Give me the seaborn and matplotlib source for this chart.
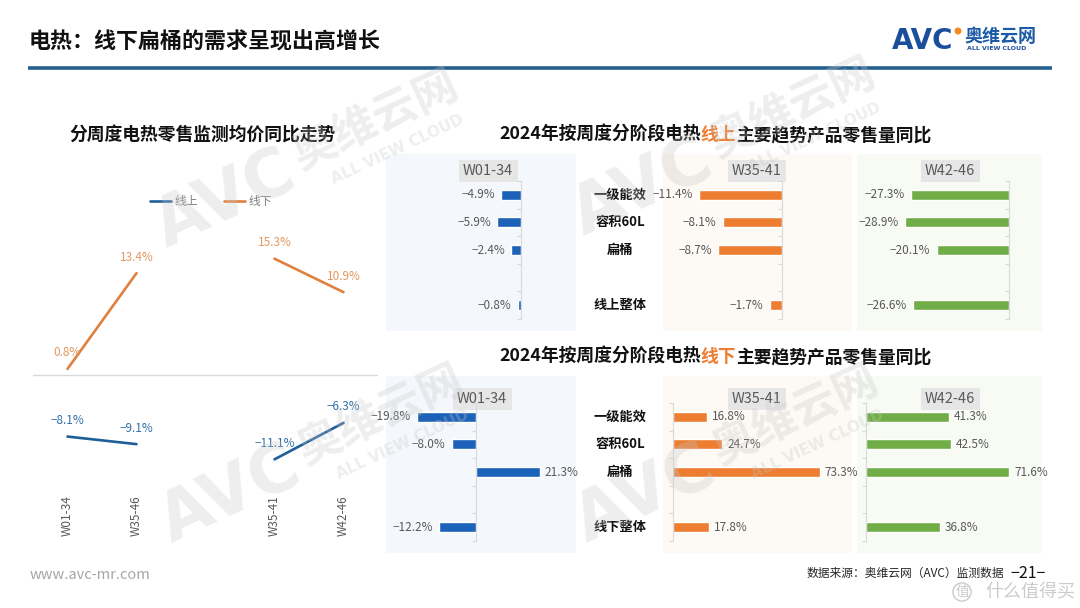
import numpy as np
import pandas as pd
import seaborn as sns
import matplotlib.pyplot as plt
from matplotlib.patches import Rectangle, Circle

sns.set_theme(style="white")
plt.rcParams['font.family'] = ['Noto Sans CJK SC', 'DejaVu Sans']
plt.rcParams['axes.unicode_minus'] = True

W, H = 1080, 608

# ---- left chart: weekly average price yoy
period_slots = ['W01-34', 'W35-46', '', 'W35-41', 'W42-46']
periods = ['W01-34', 'W35-46', 'W35-41', 'W42-46']
period_group = ['全年', '全年', '下半段', '下半段']
price_online = [-8.1, -9.1, -11.1, -6.3]
price_offline = [0.8, 13.4, 15.3, 10.9]

# ---- right panels: retail volume yoy by stage
stages = ['W01-34', 'W35-41', 'W42-46']
rows_online = ['一级能效', '容积60L', '扁桶', '', '线上整体']
rows_offline = ['一级能效', '容积60L', '扁桶', '', '线下整体']
online_w01_34 = [-4.9, -5.9, -2.4, -0.8]
online_w35_41 = [-11.4, -8.1, -8.7, -1.7]
online_w42_46 = [-27.3, -28.9, -20.1, -26.6]
offline_w01_34 = [-19.8, -8.0, 21.3, -12.2]
offline_w35_41 = [16.8, 24.7, 73.3, 17.8]
offline_w42_46 = [41.3, 42.5, 71.6, 36.8]

BLUE_LINE = '#1f5f99'
ORANGE_LINE = '#e0803f'
C_BLUE = '#1c62b9'
C_ORANGE = '#ed7d31'
C_GREEN = '#70ad47'
stage_colors = [C_BLUE, C_ORANGE, C_GREEN]
bg_colors = ['#f4f8fc', '#fdf9f4', '#f8fbf4']


def pct(v):
    return f"{v:.1f}%".replace('-', '\u2212')


def px_axes(fig, x0, y0, x1, y1, **kw):
    return fig.add_axes([x0 / W, 1 - y1 / H, (x1 - x0) / W, (y1 - y0) / H], **kw)


fig = plt.figure(figsize=(10.8, 6.08), dpi=100, facecolor='white')

# background layer in pixel coords
bg = fig.add_axes([0, 0, 1, 1], zorder=-5)
bg.set_xlim(0, W)
bg.set_ylim(H, 0)
bg.axis('off')

# overlay layer for watermarks
ov = fig.add_axes([0, 0, 1, 1], zorder=10)
ov.set_xlim(0, W)
ov.set_ylim(H, 0)
ov.axis('off')

# header
bg.text(29, 42, '电热：线下扁桶的需求呈现出高增长', fontsize=15.8, weight='bold',
        color='#111111', va='center', ha='left')
bg.plot([28, 1052], [68, 68], color='#25608f', lw=2.6, solid_capstyle='butt')
bg.text(892, 41, 'AVC', fontsize=20, weight='bold', color='#1b4f9b', va='center', ha='left',
        family='DejaVu Sans')
bg.add_patch(Circle((958, 31), 2.8, color='#f08a24'))
bg.text(964, 36, '奥维云网', fontsize=13, weight='bold', color='#1b5aa6', va='center', ha='left')
bg.text(967, 49, 'ALL VIEW CLOUD', fontsize=4.5, weight='bold', color='#1b4f9b', va='center',
        ha='left', family='DejaVu Sans')

# footer
bg.text(30, 575, 'www.avc-mr.com', fontsize=10.5, color='#a6a6a6', va='center', ha='left')
bg.text(807, 573, '数据来源：奥维云网（AVC）监测数据', fontsize=8.5, color='#262626',
        va='center', ha='left')
bg.text(1028, 573, '\u221221\u2212', fontsize=11.5, color='#111111', va='center', ha='center')
bg.text(962, 592, '值', fontsize=10, color='#cccccc', va='center', ha='center',
        bbox=dict(boxstyle='circle,pad=0.15', fc='none', ec='#cccccc', lw=1))
bg.text(985, 592, '什么值得买', fontsize=13, color='#cccccc', va='center', ha='left')

# panel backgrounds
col_x = [(386, 576), (663, 852), (857, 1042)]
for (x0, x1), c in zip(col_x, bg_colors):
    bg.add_patch(Rectangle((x0, 154), x1 - x0, 177, color=c, lw=0))
    bg.add_patch(Rectangle((x0, 376), x1 - x0, 177, color=c, lw=0))


def rich_text(ax, x, y, parts, **kw):
    t = ax.text(x, y, parts[0][0], color=parts[0][1], va='center', ha='left', **kw)
    for s, c in parts[1:]:
        t = ax.annotate(s, xy=(1, 0), xycoords=t, va='bottom', ha='left', color=c, **kw)
    return t


rich_text(bg, 499, 135, [('2024年按周度分阶段电热', '#111111'), ('线上', C_ORANGE),
                         ('主要趋势产品零售量同比', '#111111')], fontsize=12.8, weight='bold')
rich_text(bg, 499, 357, [('2024年按周度分阶段电热', '#111111'), ('线下', C_ORANGE),
                         ('主要趋势产品零售量同比', '#111111')], fontsize=12.8, weight='bold')

# ---- left line chart
bg.text(203, 136, '分周度电热零售监测均价同比走势', fontsize=12.8, weight='bold',
        color='#111111', va='center', ha='center')

records = []
for name, vals in [('线上', price_online), ('线下', price_offline)]:
    for p, g, v in zip(periods, period_group, vals):
        records.append({'series': name, 'period': p, 'group': g, 'value': v,
                        'pos': period_slots.index(p)})
df_line = pd.DataFrame(records)

zero_px, ppu = 375, 7.6
y_top, y_bot = 230, 490
axl = px_axes(fig, 33, y_top, 378, y_bot)
axl.set_facecolor('none')
sns.lineplot(data=df_line, x='pos', y='value', hue='series', hue_order=['线上', '线下'],
             units='group', estimator=None, palette=[BLUE_LINE, ORANGE_LINE],
             linewidth=1.9, ax=axl)
axl.set_xlim(-0.5, len(period_slots) - 0.5)
axl.set_ylim(-(y_bot - zero_px) / ppu, (zero_px - y_top) / ppu)
axl.axhline(0, color='#d9d9d9', lw=1, zorder=0)
for _, r in df_line.iterrows():
    col = '#e4975f' if r['series'] == '线下' else '#2f6fa8'
    axl.annotate(pct(r['value']), (r['pos'], r['value']), xytext=(0, 11.5),
                 textcoords='offset points', ha='center', va='center', fontsize=8.5, color=col)
axl.set_xticks(range(len(period_slots)))
axl.set_xticklabels(period_slots, rotation=90, fontsize=8.5, color='#595959', va='top')
axl.tick_params(axis='x', length=0, pad=4)
axl.set_yticks([])
axl.set_xlabel('')
axl.set_ylabel('')
for s in axl.spines.values():
    s.set_visible(False)
handles, labels = axl.get_legend_handles_labels()
axl.legend(handles, labels, loc='center', bbox_to_anchor=(211 / W, 1 - 202 / H),
           bbox_transform=fig.transFigure, ncol=2, frameon=False, fontsize=8.5,
           labelcolor='#7f7f7f', handlelength=1.8, handletextpad=0.3, columnspacing=2.2)

# ---- bar panels
panel_geom = {
    'top': [(521, 4.0, 395, 572), (782, 7.3, 668, 850), (1009, 3.6, 860, 1040)],
    'bottom': [(476, 3.0, 388, 572), (673, 2.0, 665, 850), (866, 2.0, 858, 1045)],
}
row_y = {'top': (181, 319), 'bottom': (403, 541)}
header_x = {'top': [488, 757, 950], 'bottom': [482, 757, 950]}
header_y = {'top': 171, 'bottom': 399}
panel_data = {
    'top': (rows_online, [online_w01_34, online_w35_41, online_w42_46]),
    'bottom': (rows_offline, [offline_w01_34, offline_w35_41, offline_w42_46]),
}

for key in ['top', 'bottom']:
    order, series = panel_data[key]
    cats = [c for c in order if c]
    y0, y1 = row_y[key]
    for i, (vals, stage) in enumerate(zip(series, stages)):
        zpx, scale, x0, x1 = panel_geom[key][i]
        ax = px_axes(fig, x0, y0, x1, y1)
        ax.set_facecolor('none')
        sns.barplot(x=vals, y=cats, order=order, color=stage_colors[i], width=0.36,
                    saturation=1, ax=ax, orient='h')
        ax.set_xlim((x0 - zpx) / scale, (x1 - zpx) / scale)
        ax.set_ylim(len(order) - 0.5, -0.5)
        for s in ['top', 'right', 'bottom']:
            ax.spines[s].set_visible(False)
        ax.spines['left'].set_position(('data', 0))
        ax.spines['left'].set_color('#d9d9d9')
        ax.spines['left'].set_linewidth(0.8)
        ax.set_yticks(np.arange(-0.5, len(order), 1))
        ax.set_yticklabels([])
        ax.tick_params(axis='y', length=3, color='#d9d9d9', width=0.8, left=True)
        ax.set_xticks([])
        ax.set_xlabel('')
        ax.set_ylabel('')
        for c, v in zip(cats, vals):
            yi = order.index(c)
            if v < 0:
                ax.annotate(pct(v), (v, yi), xytext=(-4.5, 0), textcoords='offset points',
                            ha='right', va='center', fontsize=8.5, color='#595959')
            else:
                ax.annotate(pct(v), (v, yi), xytext=(3.5, 0), textcoords='offset points',
                            ha='left', va='center', fontsize=8.5, color='#595959')
        bg.text(header_x[key][i], header_y[key], stage, fontsize=10.5, color='#595959',
                ha='center', va='center',
                bbox=dict(boxstyle='square,pad=0.3', fc='#e6e6e6', ec='none'))
    # category names
    for c in cats:
        yi = order.index(c)
        ypx = y0 + (yi + 0.5) * (y1 - y0) / len(order)
        bg.text(620, ypx, c, fontsize=9.5, weight='bold', color='#111111',
                ha='center', va='center')

# ---- watermarks
wm_centers = [(225, 200), (642, 188), (230, 495), (645, 495)]
ang = np.deg2rad(25)
along = np.array([np.cos(ang), -np.sin(ang)])
below = np.array([np.sin(ang), np.cos(ang)])
for cx, cy in wm_centers:
    c = np.array([cx, cy])
    ov.text(cx, cy, 'AVC', fontsize=48, weight='bold', color='#c8c8c8', alpha=0.3,
            rotation=25, rotation_mode='anchor', ha='center', va='center',
            family='DejaVu Sans')
    p = c + 170 * along - 8 * below
    ov.text(p[0], p[1], '奥维云网', fontsize=32, weight='bold', color='#c8c8c8', alpha=0.3,
            rotation=25, rotation_mode='anchor', ha='center', va='center')
    p = c + 178 * along + 27 * below
    ov.text(p[0], p[1], 'ALL VIEW CLOUD', fontsize=11, weight='bold', color='#c8c8c8',
            alpha=0.3, rotation=25, rotation_mode='anchor', ha='center', va='center',
            family='DejaVu Sans')

fig.savefig('out.png', dpi=100, facecolor='white')
